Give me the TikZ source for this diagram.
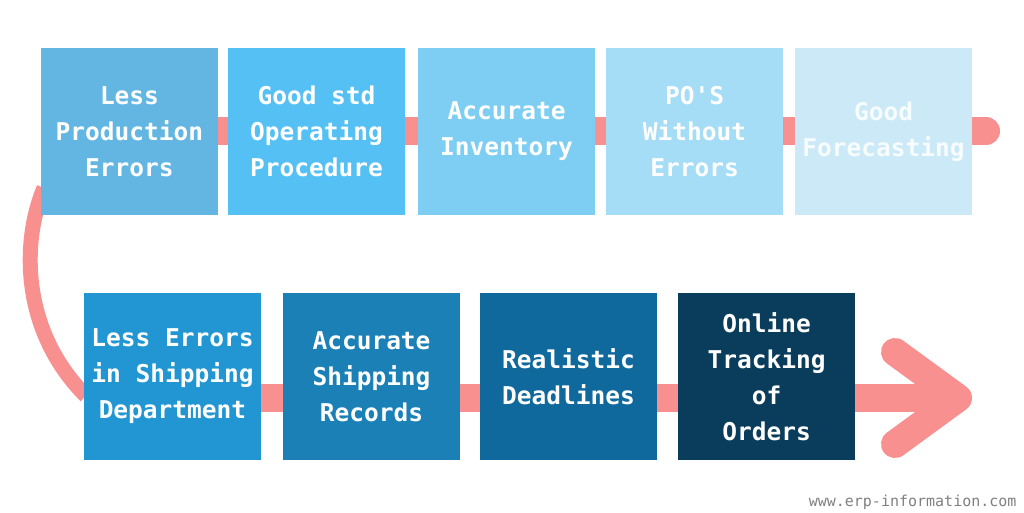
\documentclass[tikz,border=0pt]{standalone}
\usepackage{fontspec}
\setmonofont{DejaVu Sans Mono}
\usetikzlibrary{positioning}
\definecolor{band}{HTML}{F7908E}
\definecolor{cA}{HTML}{63B6E1}
\definecolor{cB}{HTML}{55C0F3}
\definecolor{cC}{HTML}{7ECDF3}
\definecolor{cD}{HTML}{A5DCF6}
\definecolor{cE}{HTML}{CCE9F7}
\definecolor{cF}{HTML}{2196D3}
\definecolor{cG}{HTML}{1A80B6}
\definecolor{cH}{HTML}{10699C}
\definecolor{cI}{HTML}{0A3D5B}
\tikzset{stepbox/.style={minimum width=177pt,minimum height=167pt,inner sep=0pt,
           text=white,align=center,font=\ttfamily\bfseries\fontsize{24.5}{36}\selectfont},
         bandline/.style={draw=band,line width=28pt}}
\begin{document}
\begin{tikzpicture}[x=1pt,y=-1pt]
  \useasboundingbox (0,0) rectangle (1024,512);
  \fill[white] (0,0) rectangle (1024,512);
  % bands
  \draw[bandline] (60,131) -- (986,131);
  \draw[bandline,line cap=round] (960,131) -- (986,131);
  \draw[draw=band,line width=15pt] (44,188) .. controls (22,240) and (20,330) .. (86,396);
  \draw[bandline] (200,398) -- (955,398);
  \draw[bandline,line cap=round,line join=round] (895,352) -- (958,398) -- (895,444);
  % top row
  \node[stepbox,fill=cA] (lpe) at (129.5,131.5) {Less\\Production\\Errors};
  \node[stepbox,fill=cB] (gsop) at (316.5,131.5) {Good std\\Operating\\Procedure};
  \node[stepbox,fill=cC] (inv) at (506.5,131.5) {Accurate\\Inventory};
  \node[stepbox,fill=cD] (po) at (694.5,131.5) {PO'S\\Without\\Errors};
  \node[stepbox,fill=cE,text=white!85!cE] (fc) at (883.5,131.5) {Good\\Forecasting};
  % bottom row
  \node[stepbox,fill=cF] (ship) at (172.5,376.5) {Less Errors\\in Shipping\\Department};
  \node[stepbox,fill=cG] (rec) at (371.5,376.5) {Accurate\\Shipping\\Records};
  \node[stepbox,fill=cH] (dl) at (568.5,376.5) {Realistic\\Deadlines};
  \node[stepbox,fill=cI] (trk) at (766.5,376.5) {Online\\Tracking\\of\\Orders};
  \node[anchor=east,text=gray,font=\ttfamily\fontsize{15}{15}\selectfont] (url) at (1020,502) {www.erp-information.com};
\end{tikzpicture}
\end{document}
